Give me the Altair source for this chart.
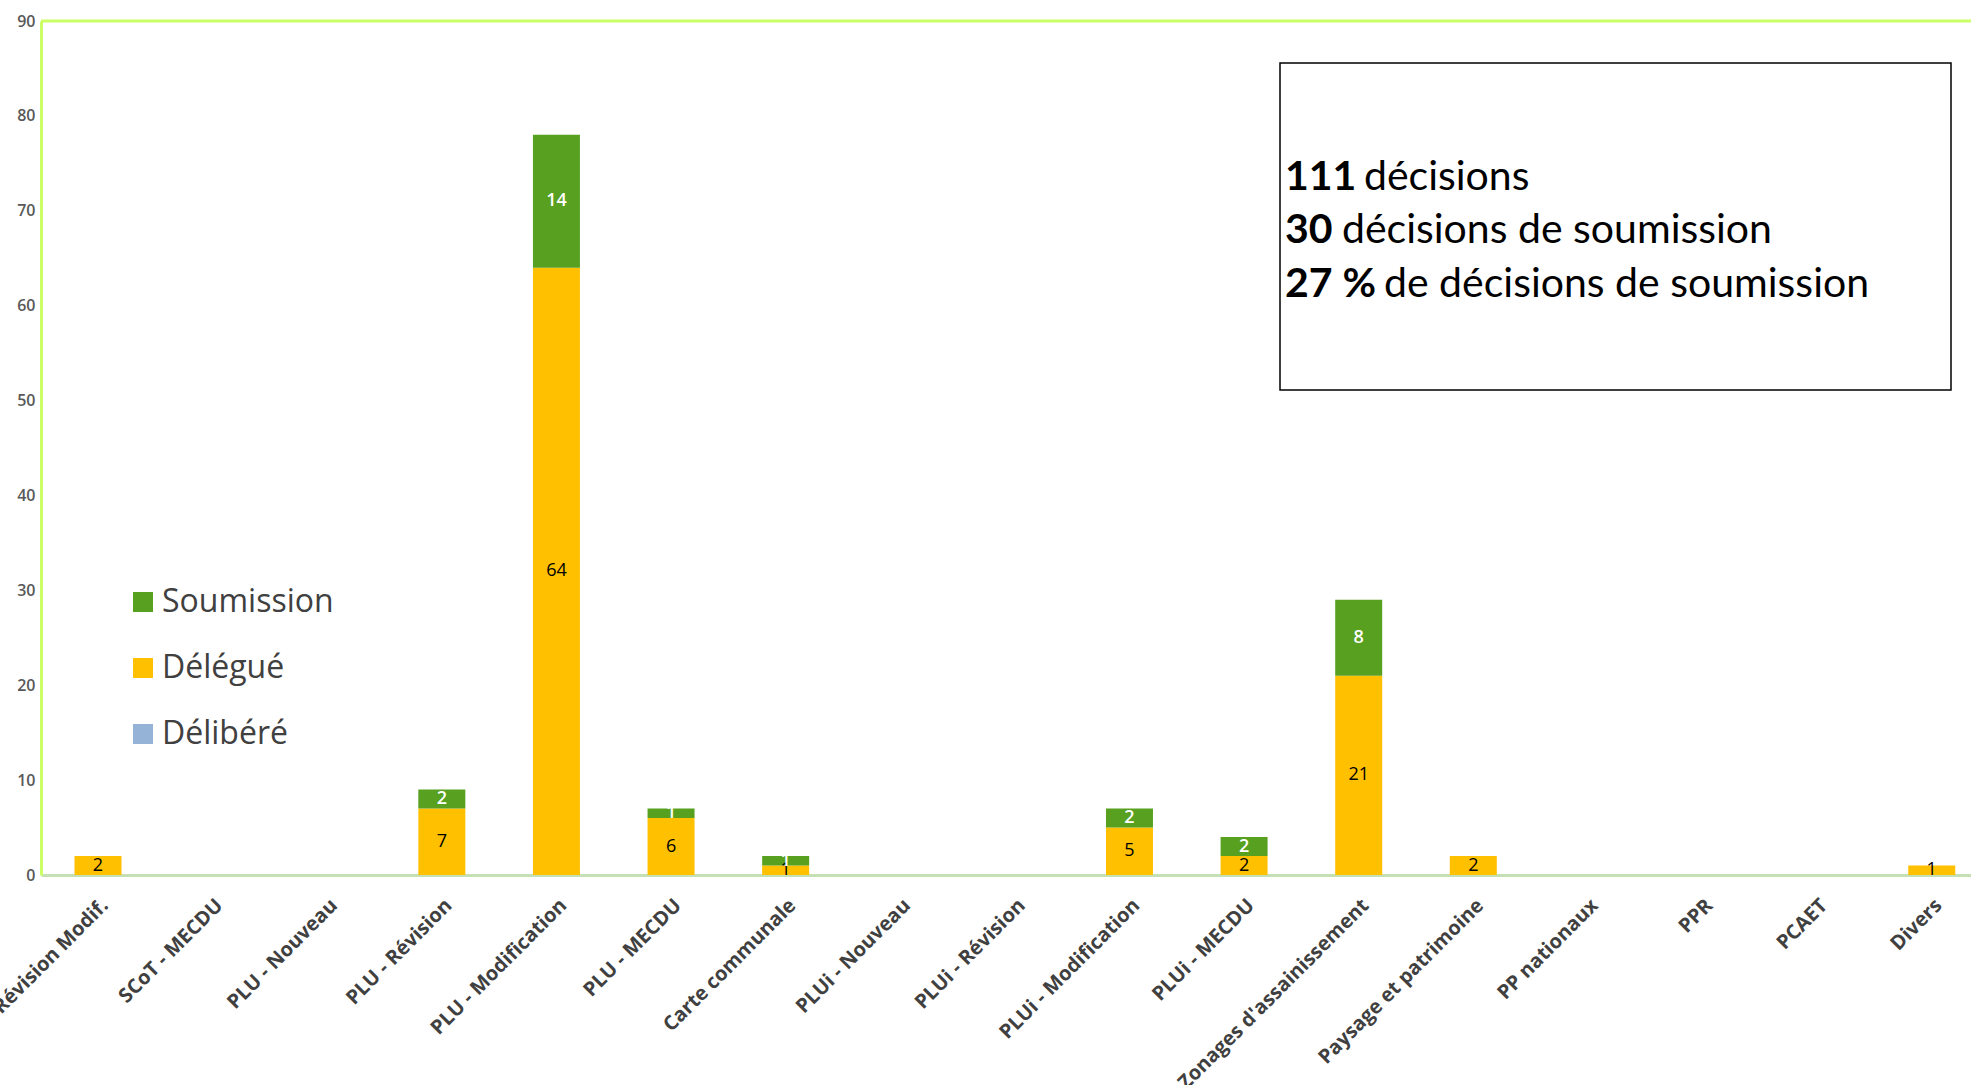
import altair as alt
import pandas as pd

categories = [
    "SCoT - Révision Modif.", "SCoT - MECDU", "PLU - Nouveau", "PLU - Révision",
    "PLU - Modification", "PLU - MECDU", "Carte communale", "PLUi - Nouveau",
    "PLUi - Révision", "PLUi - Modification", "PLUi - MECDU",
    "Zonages d'assainissement", "Paysage et patrimoine", "PP nationaux",
    "PPR", "PCAET", "Divers",
]
delibere = [0, 0, 0, 0, 0, 0, 0, 0, 0, 0, 0, 0, 0, 0, 0, 0, 0]
delegue = [2, 0, 0, 7, 64, 6, 1, 0, 0, 5, 2, 21, 2, 0, 0, 0, 1]
soumission = [0, 0, 0, 2, 14, 1, 1, 0, 0, 2, 2, 8, 0, 0, 0, 0, 0]

statuts = ["Soumission", "Délégué", "Délibéré"]
colors = ["#58a01f", "#ffc000", "#95b3d7"]
y_ticks = [0, 10, 20, 30, 40, 50, 60, 70, 80, 90]

summary_numbers = ["111", "30", "27 %"]
summary_texts = ["décisions", "décisions de soumission", "de décisions de soumission"]

rows = []
for i, c in enumerate(categories):
    base = 0
    for ordv, (name, series) in enumerate([("Délibéré", delibere), ("Délégué", delegue), ("Soumission", soumission)]):
        v = series[i]
        if v > 0:
            rows.append({"categorie": c, "statut": name, "valeur": v, "ord": ordv,
                         "mid": base + v / 2})
        base += v
df = pd.DataFrame(rows)

W, H = 1930, 854

x_scale = alt.Scale(domain=categories, paddingInner=0.59, paddingOuter=0.215, align=0.68)
x_enc = alt.X(
    "categorie:N",
    sort=categories,
    scale=x_scale,
    axis=alt.Axis(
        title=None, labelAngle=-45, labelFontSize=20, labelFont="Open Sans",
        labelFontWeight="bold", labelColor="#404040", ticks=False,
        domainColor="#c5e0b4", domainWidth=3, labelPadding=20,
        labelOverlap=False, labelLimit=400, labelAlign="right", labelBaseline="top",
    ),
)
y_scale = alt.Scale(domain=[0, 90], nice=False)

bars = alt.Chart(df).mark_bar().encode(
    x=x_enc,
    y=alt.Y(
        "valeur:Q", stack="zero", scale=y_scale,
        axis=alt.Axis(
            title=None, values=y_ticks, grid=False, ticks=False,
            domainColor="#ccff66", domainWidth=3, labelFontSize=16,
            labelFont="Open Sans", labelFontWeight=600, labelColor="#595959", labelPadding=6,
        ),
    ),
    color=alt.Color(
        "statut:N",
        scale=alt.Scale(domain=statuts, range=colors),
        legend=alt.Legend(
            title=None, orient="none", legendX=86, legendY=565,
            labelFontSize=32, labelFont="Open Sans", labelColor="#404040",
            labelLimit=400, symbolType="square", symbolSize=400, symbolStrokeWidth=0,
            rowPadding=34, labelOffset=3,
        ),
    ),
    order=alt.Order("ord:Q"),
)

lab_deleg = alt.Chart(df[df["statut"] == "Délégué"]).mark_text(
    fontSize=18, font="Open Sans", color="#000000", baseline="middle"
).encode(
    x=alt.X("categorie:N", sort=categories, scale=x_scale),
    y=alt.Y("mid:Q", scale=y_scale),
    text="valeur:Q",
)
lab_soum = alt.Chart(df[df["statut"] == "Soumission"]).mark_text(
    fontSize=18, font="Open Sans", fontWeight=600, color="#ffffff", baseline="middle"
).encode(
    x=alt.X("categorie:N", sort=categories, scale=x_scale),
    y=alt.Y("mid:Q", scale=y_scale),
    text="valeur:Q",
)

one = pd.DataFrame({"a": [0]})
top_rule = alt.Chart(one).mark_rule(color="#ccff66", strokeWidth=3).encode(
    x=alt.value(0), x2=alt.value(W), y=alt.value(0)
)
box = alt.Chart(one).mark_rect(fill="#ffffff", stroke="#000000", strokeWidth=1.5).encode(
    x=alt.value(1239), x2=alt.value(1910), y=alt.value(42), y2=alt.value(369)
)

line_y = [157, 210, 264]
rest_x = [1323, 1301, 1343]
texts = []
for i in range(3):
    texts.append(alt.Chart(one).mark_text(
        align="left", baseline="middle", fontSize=41, font="Lato", fontWeight="bold", color="#000000"
    ).encode(x=alt.value(1244), y=alt.value(line_y[i]), text=alt.value(summary_numbers[i])))
    texts.append(alt.Chart(one).mark_text(
        align="left", baseline="middle", fontSize=41, font="Lato", color="#000000"
    ).encode(x=alt.value(rest_x[i]), y=alt.value(line_y[i]), text=alt.value(summary_texts[i])))

chart = alt.layer(top_rule, bars, lab_deleg, lab_soum, box, *texts).properties(
    width=W, height=H,
    autosize=alt.AutoSizeParams(type="none"),
    padding={"left": 41, "top": 21, "right": 0, "bottom": 210},
    background="#ffffff",
).configure_view(stroke=None)

chart.save("out.html", embed_options={"renderer": "svg", "actions": False})
